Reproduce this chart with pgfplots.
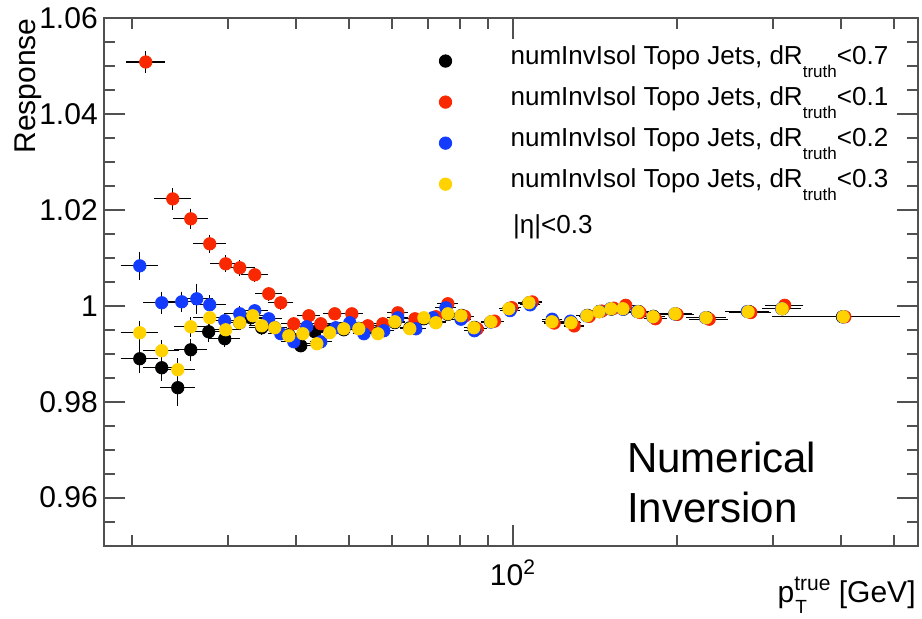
\documentclass[border=0pt]{standalone}
\usepackage{fontspec}
\setmainfont{Liberation Sans}
\usepackage{pgfplots}
\usepackage{pgfplotstable}
\pgfplotsset{compat=1.18}

\definecolor{rootred}{RGB}{250,40,0}
\definecolor{rootblue}{RGB}{20,60,255}
\definecolor{rootyellow}{RGB}{255,210,0}
\definecolor{frame}{RGB}{80,80,80}

\newcommand{\trsub}{\raisebox{-6.5pt}{\fontsize{8.5}{9}\selectfont truth}}

% dR<0.7
\pgfplotstableread{
x y ex ey
20.69 0.98896 1.4 0.0025
22.70 0.98708 1.5 0.0022
24.29 0.98292 1.5 0.0033
25.66 0.99083 1.5 0.0018
27.68 0.99458 1.6 0.0015
29.62 0.99313 1.6 0.0012
31.56 0.99646 1.6 0.0010
33.06 0.99750 1.5 0.0009
34.63 0.99542 1.5 0.0009
36.59 0.99542 1.5 0.0008
38.82 0.99396 1.5 0.0008
40.83 0.99167 1.5 0.0008
43.33 0.99458 1.5 0.0008
46.14 0.99480 1.5 0.0007
48.96 0.99500 1.6 0.0007
52.17 0.99530 1.7 0.0007
56.54 0.99440 1.8 0.0006
60.74 0.99650 1.9 0.0006
64.71 0.99540 2.0 0.0006
68.66 0.99730 2.1 0.0006
72.23 0.99660 2.2 0.0006
75.98 0.99820 2.3 0.0006
80.5 0.9980 2.5 0.0005
85.0 0.9955 2.6 0.0005
91.5 0.9967 2.8 0.0005
98.5 0.9994 3.0 0.0005
107.0 1.0006 3.5 0.0005
118.5 0.9967 3.8 0.0005
128.0 0.9965 4.0 0.0005
137.0 0.9980 4.3 0.0005
144.0 0.9988 4.5 0.0005
151.5 0.9993 5.0 0.0005
159.5 0.9993 5.0 0.0005
170.0 0.9988 6.0 0.0005
181.0 0.9978 7.0 0.0005
199.0 0.9983 12 0.0005
227.0 0.9975 16 0.0005
271.0 0.9988 21 0.0005
312.0 0.9994 22 0.0005
402.0 0.9977 100 0.0005
}\blackdata

% dR<0.1
\pgfplotstableread{
x y ex ey
21.22 1.05083 1.5 0.0018
23.78 1.02229 1.6 0.0017
25.66 1.01813 1.6 0.0016
27.80 1.01292 1.6 0.0014
29.74 1.00875 1.6 0.0012
31.56 1.00792 1.6 0.0011
33.62 1.00646 1.6 0.0010
35.67 1.00250 1.6 0.0009
37.53 1.00063 1.6 0.0009
39.65 0.99625 1.6 0.0008
42.24 0.99792 1.6 0.0008
44.43 0.99625 1.6 0.0008
47.13 0.99833 1.7 0.0007
50.65 0.99833 1.8 0.0007
54.19 0.99583 1.9 0.0007
57.74 0.99625 2.0 0.0006
61.52 0.99854 2.1 0.0006
66.12 0.99729 2.2 0.0006
72.23 0.99771 2.4 0.0006
75.98 1.00042 2.5 0.0006
81.5 0.9978 2.5 0.0005
86.0 0.9952 2.6 0.0005
92.5 0.9968 2.8 0.0005
99.5 0.9996 3.0 0.0005
108.5 1.0008 3.5 0.0005
119.0 0.9964 3.8 0.0005
129.5 0.9958 4.0 0.0005
138.0 0.9978 4.3 0.0005
145.5 0.9989 4.5 0.0005
153.0 0.9995 5.0 0.0005
161.0 1.0001 5.0 0.0005
171.0 0.9986 6.0 0.0005
182.5 0.9973 7.0 0.0005
200.0 0.9982 12 0.0005
229.0 0.9972 16 0.0005
273.0 0.9986 21 0.0005
315.0 1.0001 22 0.0005
406.0 0.9977 100 0.0005
}\reddata

% dR<0.2
\pgfplotstableread{
x y ex ey
20.69 1.00833 1.4 0.0024
22.70 1.00063 1.5 0.0018
24.70 1.00083 1.5 0.0016
26.32 1.00146 1.6 0.0026
27.80 1.00021 1.6 0.0014
29.62 0.99688 1.6 0.0010
31.56 0.99833 1.6 0.0010
33.62 0.99896 1.6 0.0009
35.67 0.99729 1.6 0.0009
37.53 0.99417 1.6 0.0008
39.65 0.99250 1.6 0.0008
41.88 0.99563 1.6 0.0008
44.43 0.99250 1.6 0.0008
47.33 0.99542 1.7 0.0007
50.22 0.99646 1.8 0.0007
53.30 0.99417 1.9 0.0007
57.98 0.99480 2.0 0.0006
61.52 0.99750 2.1 0.0006
66.38 0.99521 2.2 0.0006
71.32 0.99750 2.4 0.0006
75.35 0.99958 2.5 0.0006
80.3 0.9972 2.5 0.0005
85.0 0.9948 2.6 0.0005
91.0 0.9966 2.8 0.0005
98.8 0.9990 3.0 0.0005
107.5 1.0002 3.5 0.0005
118.0 0.9972 3.8 0.0005
127.5 0.9968 4.0 0.0005
136.5 0.9979 4.3 0.0005
144.0 0.9988 4.5 0.0005
151.0 0.9994 5.0 0.0005
159.0 0.9993 5.0 0.0005
169.0 0.9988 6.0 0.0005
180.5 0.9977 7.0 0.0005
198.0 0.9983 12 0.0005
225.5 0.9975 16 0.0005
269.0 0.9988 21 0.0005
311.0 0.9994 22 0.0005
403.0 0.9977 100 0.0005
}\bluedata

% dR<0.3
\pgfplotstableread{
x y ex ey
20.69 0.99438 1.4 0.0020
22.70 0.99063 1.5 0.0016
24.29 0.98667 1.5 0.0020
25.66 0.99563 1.5 0.0015
27.80 0.99750 1.6 0.0012
29.74 0.99500 1.6 0.0010
31.56 0.99646 1.6 0.0010
33.34 0.99792 1.5 0.0009
34.63 0.99583 1.5 0.0009
36.59 0.99542 1.5 0.0008
38.82 0.99375 1.5 0.0008
41.19 0.99417 1.5 0.0008
43.70 0.99208 1.5 0.0008
46.14 0.99438 1.5 0.0007
48.96 0.99521 1.6 0.0007
52.17 0.99521 1.7 0.0007
56.54 0.99417 1.8 0.0006
60.74 0.99667 1.9 0.0006
64.71 0.99521 2.0 0.0006
68.66 0.99750 2.1 0.0006
72.23 0.99646 2.2 0.0006
75.98 0.99833 2.3 0.0006
80.30 0.99792 2.5 0.0005
84.81 0.99542 2.6 0.0005
91.13 0.99667 2.8 0.0005
98.3 0.99938 3.0 0.0005
107.0 1.00063 3.5 0.0005
117.9 0.99667 3.8 0.0005
127.8 0.99646 4.0 0.0005
136.7 0.99792 4.3 0.0005
143.8 0.99875 4.5 0.0005
151.3 0.99938 5.0 0.0005
159.1 0.99938 5.0 0.0005
169.6 0.99875 6.0 0.0005
180.7 0.99771 7.0 0.0005
198.3 0.99833 12 0.0005
226.0 0.99750 16 0.0005
269.9 0.99875 21 0.0005
311.6 0.99938 22 0.0005
403.3 0.99771 100 0.0005
}\yellowdata

\begin{document}
\begin{tikzpicture}
\useasboundingbox (-52pt,-36.5pt) rectangle (408.5pt,272.5pt);
\begin{axis}[
    scale only axis,
    width=406.5pt, height=263.5pt,
    at={(0,0)}, anchor=south west,
    xmode=log,
    xmin=17.8, xmax=553,
    ymin=0.95, ymax=1.06,
    xtick={100}, xticklabels={10\textsuperscript{2}},
    minor xtick={20,30,40,50,60,70,80,90,200,300,400,500},
    ytick={0.96,0.98,1,1.02,1.04,1.06},
    yticklabels={0.96,0.98,1,1.02,1.04,1.06},
    minor ytick={0.955,0.965,0.97,0.975,0.985,0.99,0.995,1.005,1.01,1.015,1.025,1.03,1.035,1.045,1.05,1.055},
    tick align=inside,
    major tick length=10.5pt, minor tick length=5.5pt,
    axis line style={frame, line width=1pt},
    tick style={frame, line width=1pt},
    tick label style={font=\fontsize{15}{18}\selectfont},
    yticklabel style={inner xsep=0pt, xshift=-3pt},
    xticklabel style={inner ysep=0pt, yshift=-7pt},
    clip=false,
    legend cell align=left,
    legend style={at={(rel axis cs:0.4047,0.9507)}, anchor=north west,
        draw=none, fill=none, inner sep=0pt, outer sep=0pt,
        row sep=3.5pt, column sep=0pt,
        font=\fontsize{13}{15}\selectfont,
        nodes={inner sep=0pt, text height=10pt, text depth=7pt}},
    legend image code/.code={\path[draw=none, fill=none] (-6pt,-3pt) rectangle (32.5pt,3pt);
        \draw[mark repeat=2,mark phase=2,#1] plot coordinates {(0pt,0pt)(0pt,0pt)(0pt,0pt)};},
    every axis plot/.append style={only marks, mark=*, mark size=3.1pt,
        error bars/x dir=both, error bars/y dir=both,
        error bars/x explicit, error bars/y explicit,
        error bars/error bar style={black, line width=0.6pt},
        error bars/error mark options={black, mark size=1.3pt, line width=0.6pt}},
]

\addplot[color=black, mark options={fill=black, draw=black}]
    table[x=x, y=y, x error=ex, y error=ey] {\blackdata};
\addlegendentry{numInvIsol Topo Jets, dR\trsub<0.7}

\addplot[color=rootred, mark options={fill=rootred, draw=rootred}]
    table[x=x, y=y, x error=ex, y error=ey] {\reddata};
\addlegendentry{numInvIsol Topo Jets, dR\trsub<0.1}

\addplot[color=rootblue, mark options={fill=rootblue, draw=rootblue}]
    table[x=x, y=y, x error=ex, y error=ey] {\bluedata};
\addlegendentry{numInvIsol Topo Jets, dR\trsub<0.2}

\addplot[color=rootyellow, mark options={fill=rootyellow, draw=rootyellow}]
    table[x=x, y=y, x error=ex, y error=ey] {\yellowdata};
\addlegendentry{numInvIsol Topo Jets, dR\trsub<0.3}

\node[anchor=base west, inner sep=0pt, font=\fontsize{13}{15}\selectfont]
    at (rel axis cs:0.502,0.592) {|η|<0.3};
\node[anchor=base west, inner sep=0pt, font=\fontsize{21}{25}\selectfont]
    at (rel axis cs:0.642,0.1385) {Numerical};
\node[anchor=base west, inner sep=0pt, font=\fontsize{21}{25}\selectfont]
    at (rel axis cs:0.642,0.0436) {Inversion};

\node[anchor=base east, rotate=90, inner sep=0pt, font=\fontsize{15}{18}\selectfont]
    at (rel axis cs:-0.0849,1) {Response};
\node[anchor=base east, inner sep=0pt, font=\fontsize{15}{18}\selectfont]
    at (rel axis cs:1,0) [xshift=-1pt, yshift=-28.5pt]
    {p\rlap{\hspace{0.5pt}\raisebox{-5.5pt}{\fontsize{9.5}{10}\selectfont T}}\raisebox{6pt}{\fontsize{10.5}{11}\selectfont true} [GeV]};
\end{axis}
\end{tikzpicture}
\end{document}
